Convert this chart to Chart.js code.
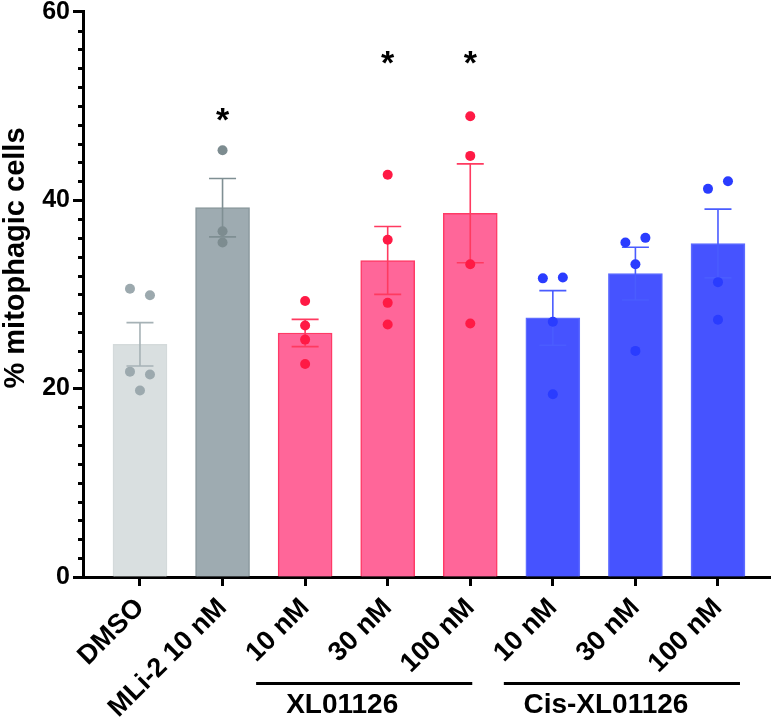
<!DOCTYPE html>
<html><head><meta charset="utf-8">
<script src="https://cdn.jsdelivr.net/npm/chart.js@4/dist/chart.umd.min.js"></script>
<style>html,body{margin:0;padding:0;background:#fff;}#wrap{width:776px;height:725px;}</style>
</head><body><div id="wrap"><canvas id="c" width="776" height="725"></canvas></div>
<script>
// ---- data ----
const categories = ['DMSO', 'MLi-2 10 nM', '10 nM', '30 nM', '100 nM', '10 nM', '30 nM', '100 nM'];
const means = [24.7, 39.2, 25.9, 33.6, 38.6, 27.5, 32.2, 35.4];
const sems = [2.3, 3.1, 1.45, 3.6, 5.25, 2.9, 2.8, 3.65];
const pointsDMSO = [30.6, 29.9, 21.8, 21.5, 19.8];
const pointsMLi2 = [45.3, 36.7, 35.5];
const pointsXL10 = [29.3, 26.7, 25.2, 22.6];
const pointsXL30 = [42.7, 35.8, 29.1, 26.8];
const pointsXL100 = [48.9, 44.7, 33.2, 26.9];
const pointsCis10 = [31.7, 31.8, 27.1, 19.4];
const pointsCis30 = [35.5, 36.0, 33.2, 24.0];
const pointsCis100 = [41.2, 42.0, 31.3, 27.3];
const sigLabels = ['', '*', '', '*', '*', '', '', ''];
const sigLevels = [null, 49.1, null, 55.1, 55.1, null, null, null];
const groupNames = ['XL01126', 'Cis-XL01126'];
const groupFirst = [2, 5];
const groupLast = [4, 7];
const yTickValues = [0, 20, 40, 60];

// ---- styles ----
const allPoints = [pointsDMSO, pointsMLi2, pointsXL10, pointsXL30, pointsXL100, pointsCis10, pointsCis30, pointsCis100];
const jitter = [[-1, 1, -1, 1, 0], [0, 0, 0], [0, 0, 0, 0], [0, 0, 0, 0], [0, 0, 0, 0], [-1, 1, 0, 0], [-1, 1, 0, 0], [-1, 1, 0, 0]];
const JIT = 0.121;
const barFill = ['#d9dfe0', '#9eabb1', '#ff6699', '#ff6699', '#ff6699', '#4653ff', '#4653ff', '#4653ff'];
const barBorder = ['#d4dadb', '#8a989d', '#ff3a66', '#ff3a66', '#ff3a66', '#5d6bff', '#5d6bff', '#5d6bff'];
const errColor = ['#a6b2b6', '#7f8f93', '#ff3a60', '#ff3a60', '#ff3a60', '#4a5cff', '#4a5cff', '#4a5cff'];
const ptColor = ['#9ca9ae', '#7d8c90', '#ff1a45', '#ff1a45', '#ff1a45', '#2a3cff', '#2a3cff', '#2a3cff'];
const FONT = '"Liberation Sans", Arial, Helvetica, sans-serif';
const groupLineStart = [-49, -49];
const groupLineEnd = [2, 22];
const groupTextShift = [-22, -16];

const scatterData = [], scatterColors = [];
allPoints.forEach((arr, i) => arr.forEach((v, k) => {
  scatterData.push({x: i + jitter[i][k] * JIT, y: v});
  scatterColors.push(ptColor[i]);
}));

const deco = {
  id: 'deco',
  afterDatasetDraw(chart, args) {
    if (args.meta.type !== 'bar') return;
    const xs = chart.scales.x, ys = chart.scales.y, ctx = chart.ctx;
    means.forEach((m, i) => {
      const px = xs.getPixelForValue(i);
      const t = ys.getPixelForValue(m + sems[i]), b = ys.getPixelForValue(m - sems[i]);
      ctx.save();
      ctx.strokeStyle = errColor[i]; ctx.lineWidth = 1.6;
      ctx.beginPath();
      ctx.moveTo(px, t); ctx.lineTo(px, b);
      ctx.moveTo(px - 13.5, t); ctx.lineTo(px + 13.5, t);
      ctx.moveTo(px - 13.5, b); ctx.lineTo(px + 13.5, b);
      ctx.stroke(); ctx.restore();
    });
  },
  afterDraw(chart) {
    const xs = chart.scales.x, ys = chart.scales.y, ctx = chart.ctx;
    const left = chart.chartArea.left;
    ctx.save();
    // minor ticks
    ctx.strokeStyle = '#000'; ctx.lineWidth = 3;
    ctx.beginPath();
    for (let v = 0; v <= 60; v += 2) {
      if (v % 20 === 0) continue;
      const py = Math.round(ys.getPixelForValue(v)) + 0.5;
      ctx.moveTo(left - 5, py); ctx.lineTo(left, py);
    }
    ctx.stroke();
    // significance stars
    ctx.fillStyle = '#000';
    ctx.font = 'bold 34px ' + FONT;
    ctx.textAlign = 'center'; ctx.textBaseline = 'alphabetic';
    sigLabels.forEach((s, i) => {
      if (!s) return;
      const m = ctx.measureText(s);
      const off = (m.actualBoundingBoxAscent - m.actualBoundingBoxDescent) / 2;
      ctx.fillText(s, xs.getPixelForValue(i), ys.getPixelForValue(sigLevels[i]) + off);
    });
    // y title
    ctx.save();
    ctx.font = 'bold 29px ' + FONT;
    ctx.translate(24, 258); ctx.rotate(-Math.PI / 2);
    ctx.textAlign = 'center'; ctx.textBaseline = 'alphabetic';
    ctx.fillText('% mitophagic cells', 0, 0);
    ctx.restore();
    // group lines and labels
    ctx.font = 'bold 28px ' + FONT;
    groupNames.forEach((g, k) => {
      const x1 = xs.getPixelForValue(groupFirst[k]) + groupLineStart[k];
      const x2 = xs.getPixelForValue(groupLast[k]) + groupLineEnd[k];
      ctx.lineWidth = 3; ctx.beginPath();
      ctx.moveTo(x1, 683.5); ctx.lineTo(x2, 683.5); ctx.stroke();
      ctx.textAlign = 'center';
      ctx.fillText(g, (x1 + x2) / 2 + groupTextShift[k], 713);
    });
    ctx.restore();
  }
};

new Chart(document.getElementById('c'), {
  data: {
    datasets: [
      {type: 'bar', order: 2, data: means.map((m, i) => ({x: i, y: m})),
       backgroundColor: barFill, borderColor: barBorder, borderWidth: 1.5, barThickness: 54},
      {type: 'scatter', order: 1, data: scatterData, backgroundColor: scatterColors,
       pointRadius: 5, pointBorderWidth: 0, pointHoverRadius: 5}
    ]
  },
  options: {
    responsive: false, devicePixelRatio: 1, animation: false,
    layout: {padding: {top: 10, right: 6, left: 0, bottom: 0}},
    plugins: {legend: {display: false}, tooltip: {enabled: false}},
    scales: {
      x: {
        type: 'linear', min: -0.69, max: 7.63, offset: false,
        afterBuildTicks: s => { s.ticks = categories.map((_, i) => ({value: i})); },
        afterFit: s => { s.height = 148; },
        grid: {offset: false, drawOnChartArea: false, tickLength: 9, tickWidth: 3, tickColor: '#000'},
        border: {display: true, width: 3, color: '#000'},
        ticks: {autoSkip: false, minRotation: 45, maxRotation: 45, padding: 6, color: '#000',
                font: {family: FONT, size: 27, weight: 'bold'},
                callback: v => categories[v]}
      },
      y: {
        min: 0, max: 60,
        afterBuildTicks: s => { s.ticks = yTickValues.map(v => ({value: v})); },
        afterFit: s => { s.width = 83; },
        grid: {drawOnChartArea: false, tickLength: 10, tickWidth: 3, tickColor: '#000'},
        border: {display: true, width: 3, color: '#000'},
        ticks: {padding: 3, color: '#000', font: {family: FONT, size: 25, weight: 'bold', lineHeight: 0.7}}
      }
    }
  },
  plugins: [deco]
});
</script></body></html>
